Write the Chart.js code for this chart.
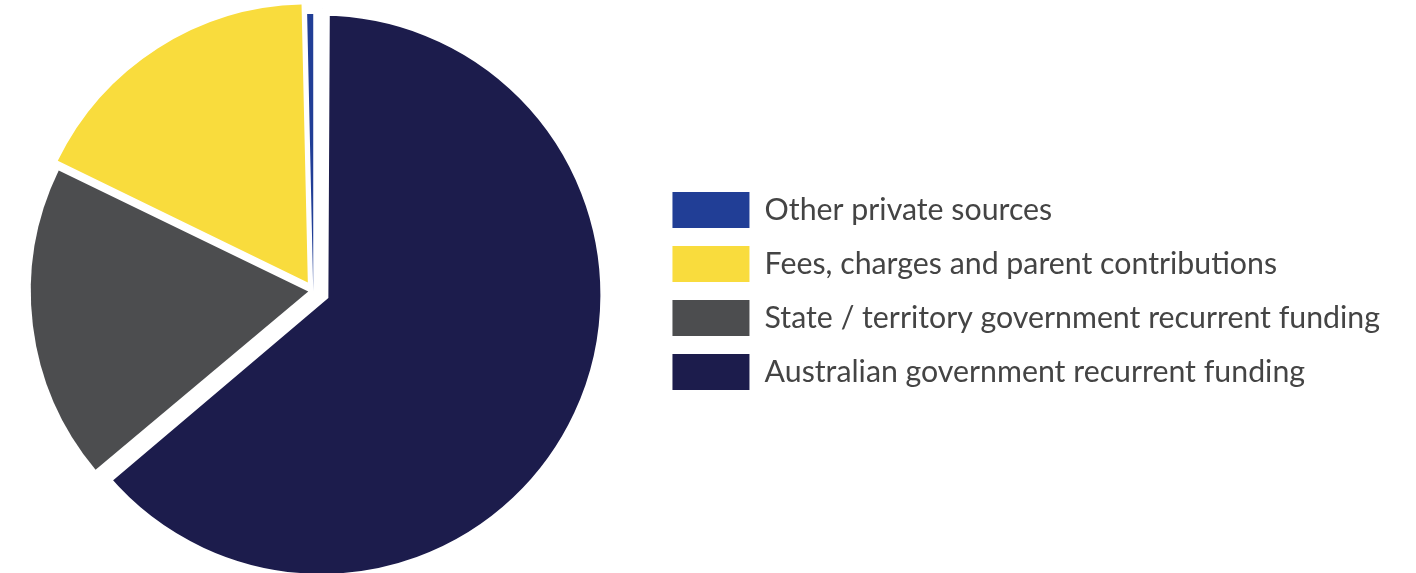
<!DOCTYPE html>
<html>
<head>
<meta charset="utf-8">
<title>Recurrent funding sources</title>
<script src="https://cdn.jsdelivr.net/npm/chart.js@4.4.1/dist/chart.umd.min.js"></script>
<style>
    html, body {
        margin: 0;
        padding: 0;
        background: #ffffff;
        overflow: hidden;
    }
    /* pulled left a little so the pie sits close to the page edge */
    #chartWrap {
        position: absolute;
        left: -31px;
        top: 0;
        width: 1447px;
        height: 573px;
    }
</style>
</head>
<body>
<div id="chartWrap">
    <canvas id="fundingChart"></canvas>
</div>
<script>
// Funding sources (share of recurrent income, %)
const sourceLabels = [
    'Australian government recurrent funding',
    'State / territory government recurrent funding',
    'Fees, charges and parent contribu\u200Ctions',
    'Other private sources'
];
const sourceShares = [63.9, 18.3, 17.45, 0.35];

// Slice colours, same order as the labels
const sliceColors = ['#1c1c4c', '#4c4d4f', '#f9dc3d', '#213e96'];

// How far each slice is pulled out of the pie
const sliceOffsets = [36, 20, 40, 0];
// white edge on the big slice keeps its rim in line with the others
const sliceBorders = [14, 0, 0, 0];

document.addEventListener('DOMContentLoaded', () => {
    const ctx = document.getElementById('fundingChart').getContext('2d');
    const pieLegendLabels = Chart.overrides.pie.plugins.legend.labels.generateLabels;

    new Chart(ctx, {
        type: 'pie',
        data: {
            labels: sourceLabels,
            datasets: [{
                data: sourceShares,
                backgroundColor: sliceColors,
                borderColor: '#ffffff',
                borderWidth: sliceBorders,
                borderAlign: 'center',
                borderJoinStyle: 'miter',
                offset: sliceOffsets,
                radius: 277
            }]
        },
        options: {
            responsive: true,
            maintainAspectRatio: false,
            animation: false,
            layout: {
                padding: { top: 9, right: 26, bottom: 0, left: 3 }
            },
            plugins: {
                tooltip: { enabled: false },
                legend: {
                    position: 'right',
                    align: 'center',
                    reverse: true,
                    maxWidth: 800,
                    labels: {
                        boxWidth: 77,
                        boxHeight: 36,
                        padding: 18,
                        color: '#444444',
                        font: { family: 'Lato', size: 30.3 },
                        generateLabels: function(chart) {
                            // plain filled boxes, without the slice borders
                            return pieLegendLabels(chart).map(item => {
                                item.lineWidth = 0;
                                return item;
                            });
                        }
                    }
                }
            }
        }
    });
});
</script>
</body>
</html>
